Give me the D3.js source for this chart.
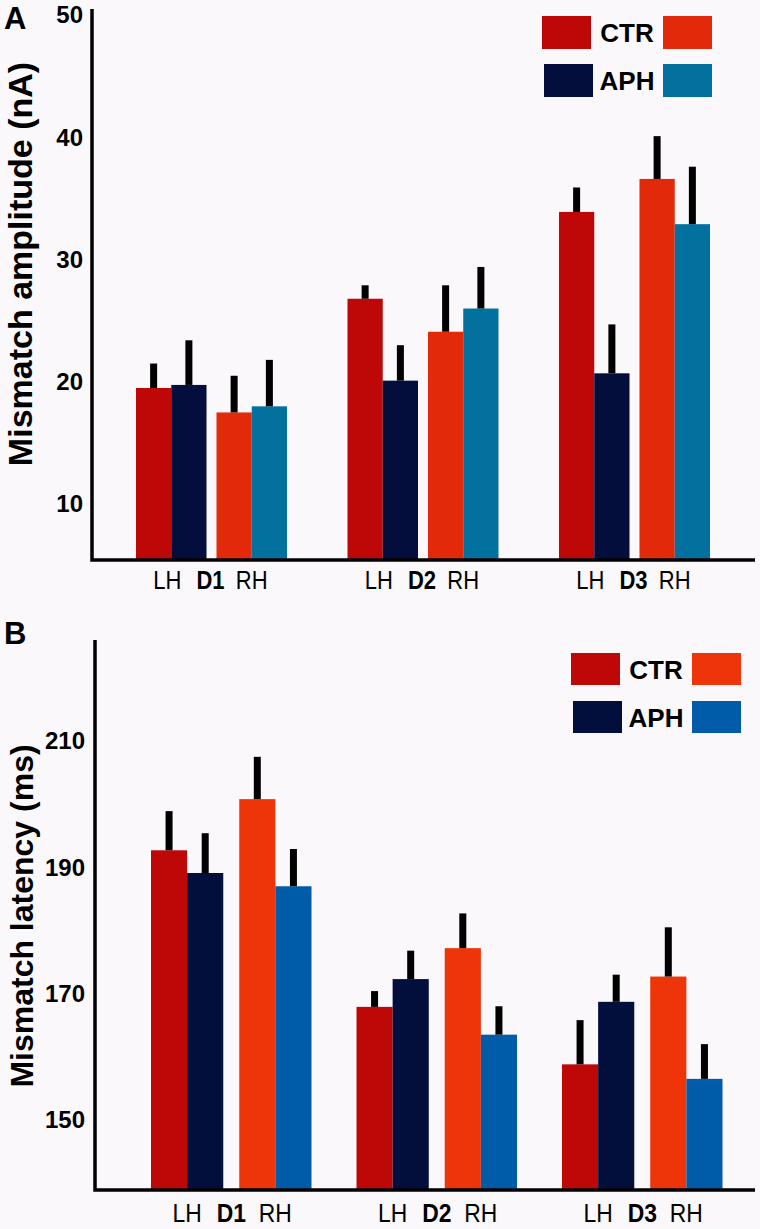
<!DOCTYPE html>
<html><head><meta charset="utf-8">
<script src="https://cdn.jsdelivr.net/npm/d3@7"></script>
<style>
html,body{margin:0;padding:0;background:#faf8fa;}
svg{display:block;font-family:"Liberation Sans",Arial,sans-serif;}
</style></head>
<body>
<svg id="chart" width="760" height="1229"></svg>
<script>
// ---------- data ----------
const groups = ["D1", "D2", "D3"];
const hemis = ["LH", "RH"];
const conds = ["CTR", "APH"];

// Panel A: mismatch amplitude (nA)
const ampTicks = [10, 20, 30, 40, 50];
const ampCTR_LH = [19.5, 26.8, 33.9];
const ampAPH_LH = [19.75, 20.1, 20.7];
const ampCTR_RH = [17.5, 24.1, 36.6];
const ampAPH_RH = [18.0, 26.0, 32.9];
const ampErrCTR_LH = [2.0, 1.1, 2.0];
const ampErrAPH_LH = [3.65, 2.9, 4.0];
const ampErrCTR_RH = [3.0, 3.8, 3.5];
const ampErrAPH_RH = [3.8, 3.4, 4.7];

// Panel B: mismatch latency (ms)
const latTicks = [150, 170, 190, 210];
const latCTR_LH = [192.7, 167.9, 158.8];
const latAPH_LH = [189.1, 172.3, 168.7];
const latCTR_RH = [200.8, 177.2, 172.7];
const latAPH_RH = [187.0, 163.5, 156.5];
const latErrCTR_LH = [6.2, 2.5, 7.0];
const latErrAPH_LH = [6.3, 4.5, 4.3];
const latErrCTR_RH = [6.7, 5.5, 7.8];
const latErrAPH_RH = [5.9, 4.5, 5.5];

// ---------- helpers ----------
function rows(cl, al, cr, ar, ecl, eal, ecr, ear) {
  const out = [];
  groups.forEach((g, i) => {
    out.push({g, h: "LH", c: "CTR", v: cl[i], e: ecl[i]});
    out.push({g, h: "LH", c: "APH", v: al[i], e: eal[i]});
    out.push({g, h: "RH", c: "CTR", v: cr[i], e: ecr[i]});
    out.push({g, h: "RH", c: "APH", v: ar[i], e: ear[i]});
  });
  return out;
}

const svg = d3.select("#chart");

function label(g, x, y, txt, size, bold, sx) {
  g.append("text")
    .attr("transform", `translate(${x},${y}) scale(${sx},1)`)
    .attr("text-anchor", "middle")
    .attr("font-size", size)
    .attr("font-weight", bold ? "bold" : "normal")
    .attr("fill", "#000")
    .text(txt);
}

function drawPanel(cfg) {
  const g = svg.append("g");
  const y = d3.scaleLinear().domain(cfg.yDomain).range([cfg.bottom, cfg.top]);
  const xg = d3.scaleBand().domain(groups).range(cfg.groupRange).paddingInner(cfg.groupPad).paddingOuter(0);
  const xh = d3.scaleBand().domain(hemis).range([0, xg.bandwidth()]).paddingInner(cfg.hemiPad).paddingOuter(0);
  const xc = d3.scaleBand().domain(conds).range([0, xh.bandwidth()]).padding(0);
  const colorKey = d => d.c + "_" + d.h;

  const data = cfg.data;
  const xOf = d => xg(d.g) + xh(d.h) + xc(d.c);

  // bars
  g.selectAll("rect.bar").data(data).enter().append("rect")
    .attr("class", "bar")
    .attr("x", xOf)
    .attr("width", xc.bandwidth())
    .attr("y", d => y(d.v))
    .attr("height", d => y(cfg.yDomain[0]) - y(d.v))
    .attr("fill", d => cfg.colors[colorKey(d)]);

  // error bars
  const ew = 7;
  g.selectAll("rect.err").data(data).enter().append("rect")
    .attr("class", "err")
    .attr("x", d => xOf(d) + xc.bandwidth() / 2 - ew / 2)
    .attr("width", ew)
    .attr("y", d => y(d.v + d.e))
    .attr("height", d => y(d.v) - y(d.v + d.e))
    .attr("fill", "#000");

  // y axis
  const ya = d3.axisLeft(y).tickValues(cfg.ticks).tickSize(0).tickPadding(cfg.tickPad).tickFormat(d3.format("d"));
  const yg = g.append("g").attr("transform", `translate(${cfg.axisX},0)`).call(ya);
  yg.select(".domain").remove();
  yg.selectAll("text").attr("font-size", cfg.tickFont).attr("font-weight", "bold").attr("fill", "#000")
    .attr("font-family", "'Liberation Sans',Arial,sans-serif");

  // axis lines
  g.append("path")
    .attr("d", `M${cfg.axisX},${cfg.top} L${cfg.axisX},${cfg.bottom} L${cfg.axisRight},${cfg.bottom}`)
    .attr("fill", "none").attr("stroke", "#000").attr("stroke-width", 3.5);

  // y title
  g.append("text")
    .attr("transform", `translate(${cfg.titleX},${cfg.titleY}) rotate(-90)`)
    .attr("text-anchor", "middle")
    .attr("font-size", cfg.titleFont).attr("font-weight", "bold").attr("fill", "#000")
    .text(cfg.title);

  // panel letter
  g.append("text").attr("x", 4).attr("y", cfg.letterY)
    .attr("font-size", 31).attr("font-weight", "bold").text(cfg.letter);

  // x labels
  groups.forEach(gr => {
    hemis.forEach(h => {
      label(g, xg(gr) + xh(h) + xh.bandwidth() / 2 + (h === "LH" ? cfg.lhShift : cfg.rhShift),
        cfg.labelY, h, cfg.labelFont, false, 0.88);
    });
    label(g, xg(gr) + xg.bandwidth() / 2 + cfg.dShift, cfg.labelY, gr, cfg.labelFont, true, 0.88);
  });

  // legend
  const L = cfg.legend;
  conds.forEach((c, i) => {
    const yy = L.y + i * L.dy;
    g.append("rect").attr("x", L.x1 + (c === "APH" ? 2 : 0)).attr("y", yy).attr("width", L.w).attr("height", L.h)
      .attr("fill", cfg.colors[c + "_LH"]);
    g.append("rect").attr("x", L.x2).attr("y", yy).attr("width", L.w).attr("height", L.h)
      .attr("fill", cfg.colors[c + "_RH"]);
    g.append("text").attr("x", L.tx).attr("y", yy + L.h / 2 + 9.5)
      .attr("text-anchor", "middle").attr("font-size", 26).attr("font-weight", "bold").text(c);
  });
}

drawPanel({
  data: rows(ampCTR_LH, ampAPH_LH, ampCTR_RH, ampAPH_RH, ampErrCTR_LH, ampErrAPH_LH, ampErrCTR_RH, ampErrAPH_RH),
  yDomain: [5.43, 50.5], top: 9, bottom: 560, ticks: ampTicks,
  groupRange: [136, 710], groupPad: 0.286, hemiPad: 0.124,
  axisX: 92, axisRight: 755, tickPad: 9, tickFont: 24,
  title: "Mismatch amplitude (nA)", titleX: 32, titleY: 264, titleFont: 34,
  letter: "A", letterY: 29,
  labelY: 589, labelFont: 25, lhShift: -4, rhShift: 0, dShift: -1,
  colors: {CTR_LH: "#be0808", APH_LH: "#030e3c", CTR_RH: "#e22a0b", APH_RH: "#02719e"},
  legend: {x1: 542, x2: 663, y: 16, dy: 48, w: 49, h: 33, tx: 627}
});

drawPanel({
  data: rows(latCTR_LH, latAPH_LH, latCTR_RH, latAPH_RH, latErrCTR_LH, latErrAPH_LH, latErrCTR_RH, latErrAPH_RH),
  yDomain: [138.9, 226], top: 640, bottom: 1190, ticks: latTicks,
  groupRange: [151, 722.5], groupPad: 0.219, hemiPad: 0.181,
  axisX: 95, axisRight: 755, tickPad: 10, tickFont: 24,
  title: "Mismatch latency (ms)", titleX: 33, titleY: 916, titleFont: 32,
  letter: "B", letterY: 644,
  labelY: 1222, labelFont: 26, lhShift: 0, rhShift: 0, dShift: 0,
  colors: {CTR_LH: "#be0808", APH_LH: "#020f3c", CTR_RH: "#ee350a", APH_RH: "#005ba8"},
  legend: {x1: 571, x2: 692, y: 653, dy: 48, w: 49, h: 32, tx: 656}
});
</script>
</body></html>
